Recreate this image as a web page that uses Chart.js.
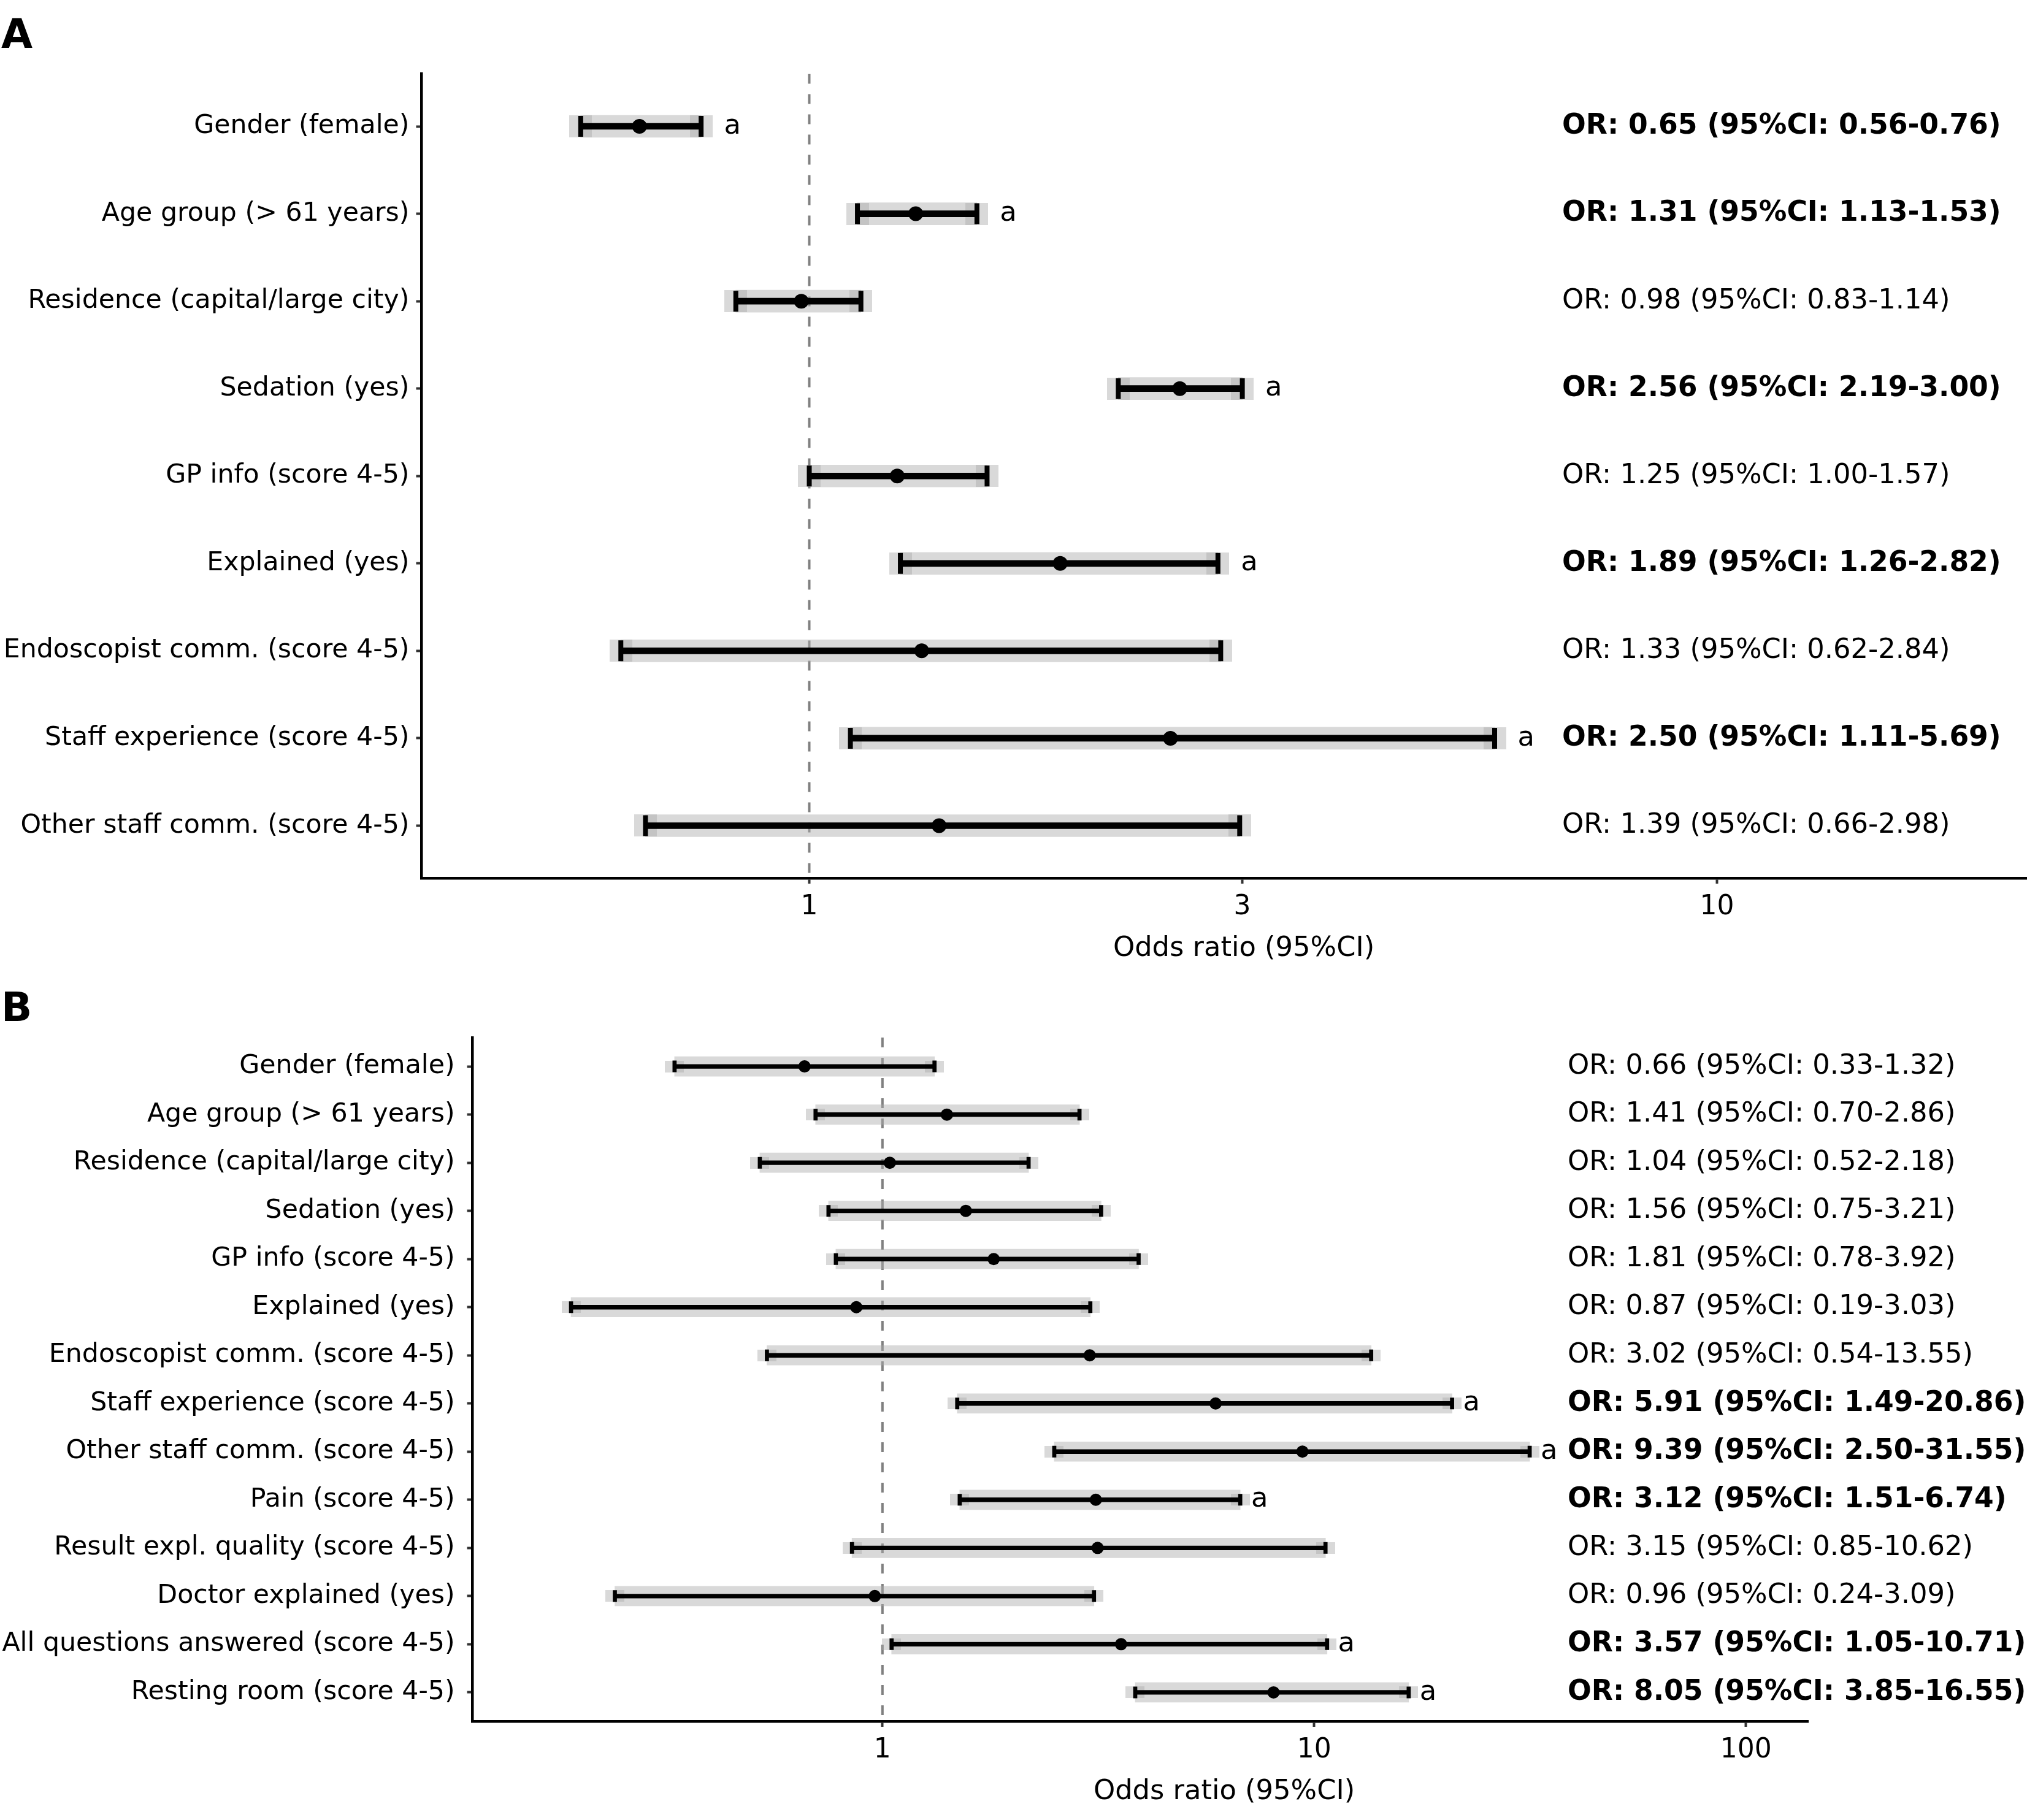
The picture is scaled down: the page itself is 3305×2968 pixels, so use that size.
<!DOCTYPE html>
<html><head><meta charset="utf-8">
<script src="https://cdn.jsdelivr.net/npm/chart.js@4.4.1/dist/chart.umd.min.js"></script>
<style>
html,body{margin:0;padding:0;background:#fff;}
body{width:3305px;height:2968px;position:relative;overflow:hidden;}
canvas{position:absolute;left:0;}
.panel{position:absolute;left:2px;font:bold 66px 'DejaVu Sans';line-height:1;color:#000;z-index:2;}
</style></head><body>
<canvas id="cA" width="3305" height="1600" style="top:0"></canvas>
<canvas id="cB" width="3305" height="1368" style="top:1600px"></canvas>
<div class="panel" style="top:23px">A</div>
<div class="panel" style="top:1610px">B</div>
<script>
// ---------- Panel A data ----------
const catsA = ['Gender (female)','Age group (> 61 years)','Residence (capital/large city)','Sedation (yes)','GP info (score 4-5)','Explained (yes)','Endoscopist comm. (score 4-5)','Staff experience (score 4-5)','Other staff comm. (score 4-5)'];
const orA = [0.65, 1.31, 0.98, 2.56, 1.25, 1.89, 1.33, 2.50, 1.39];
const loA = [0.56, 1.13, 0.83, 2.19, 1.00, 1.26, 0.62, 1.11, 0.66];
const hiA = [0.76, 1.53, 1.14, 3.00, 1.57, 2.82, 2.84, 5.69, 2.98];
const sigA = [true, true, false, true, false, true, false, true, false];
const ticksA = [1, 3, 10];

// ---------- Panel B data ----------
const catsB = ['Gender (female)','Age group (> 61 years)','Residence (capital/large city)','Sedation (yes)','GP info (score 4-5)','Explained (yes)','Endoscopist comm. (score 4-5)','Staff experience (score 4-5)','Other staff comm. (score 4-5)','Pain (score 4-5)','Result expl. quality (score 4-5)','Doctor explained (yes)','All questions answered (score 4-5)','Resting room (score 4-5)'];
const orB = [0.66, 1.41, 1.04, 1.56, 1.81, 0.87, 3.02, 5.91, 9.39, 3.12, 3.15, 0.96, 3.57, 8.05];
const loB = [0.33, 0.70, 0.52, 0.75, 0.78, 0.19, 0.54, 1.49, 2.50, 1.51, 0.85, 0.24, 1.05, 3.85];
const hiB = [1.32, 2.86, 2.18, 3.21, 3.92, 3.03, 13.55, 20.86, 31.55, 6.74, 10.62, 3.09, 10.71, 16.55];
const sigB = [false, false, false, false, false, false, false, true, true, true, false, false, true, true];
const ticksB = [1, 10, 100];

const axisTitle = 'Odds ratio (95%CI)';

// ---------- styling ----------
const FAM = '"DejaVu Sans"';
const BAND = 'rgba(170,170,170,0.45)';

const forestText = {
  id: 'forestText',
  afterDraw(chart, args, o) {
    const ctx = chart.ctx, x = chart.scales.x, y = chart.scales.y;
    ctx.save();
    ctx.fillStyle = '#000';
    ctx.textBaseline = 'middle';
    ctx.textAlign = 'left';
    for (let i = 0; i < o.labels.length; i++) {
      const py = y.getPixelForValue(i);
      ctx.font = o.sig[i] ? ('bold ' + o.boldSize + 'px ' + FAM) : (o.size + 'px ' + FAM);
      ctx.fillText(o.labels[i], x.getPixelForValue(o.textX), py);
      if (o.sig[i]) {
        ctx.font = o.size + 'px ' + FAM;
        ctx.fillText('a', x.getPixelForValue(o.hi[i] * 1.06), py);
      }
    }
    ctx.textAlign = 'center';
    ctx.font = o.size + 'px ' + FAM;
    ctx.fillText(o.title, o.titleX, o.titleY);
    ctx.restore();
  }
};

function capImg(w, h) {
  const c = document.createElement('canvas');
  c.width = w; c.height = h;
  const g = c.getContext('2d');
  g.fillStyle = BAND;
  g.fillRect(0, 0, w, h);
  return c;
}

function build(id, d, s) {
  const n = d.cats.length;
  const idx = d.cats.map((_, i) => i);
  const ends = [];
  idx.forEach(i => { ends.push({x: d.lo[i], y: i}); ends.push({x: d.hi[i], y: i}); });
  const ranges = idx.map(i => ({x: [d.lo[i], d.hi[i]], y: i}));
  const labels = idx.map(i => 'OR: ' + d.or[i].toFixed(2) + ' (95%CI: ' + d.lo[i].toFixed(2) + '-' + d.hi[i].toFixed(2) + ')');
  const gridOpts = {offset: false, drawOnChartArea: false, drawTicks: true, tickLength: 9, tickWidth: 4, tickColor: '#333'};
  const borderOpts = {display: true, color: '#000', width: 4.5};
  return new Chart(document.getElementById(id), {
    type: 'bar',
    data: { datasets: [
      {type: 'line', data: [{x: 1, y: -0.6}, {x: 1, y: n - 0.4}], borderColor: '#808080', borderWidth: 4,
       borderDash: [16, 17], pointRadius: 0, order: 6},
      {type: 'bar', indexAxis: 'y', grouped: false, data: ranges, backgroundColor: BAND, borderWidth: 0,
       barThickness: s.bandH, order: 5},
      {type: 'scatter', data: ends, pointStyle: capImg(s.sqW, s.sqH), pointRadius: 10, order: 4},
      {type: 'bar', indexAxis: 'y', grouped: false, data: ranges, backgroundColor: '#000', borderWidth: 0,
       barThickness: s.lineW, order: 3},
      {type: 'scatter', data: ends, pointStyle: 'line', pointRotation: 90, pointRadius: s.capH / 2,
       pointBorderWidth: s.capW, pointBorderColor: '#000', order: 2},
      {type: 'scatter', data: idx.map(i => ({x: d.or[i], y: i})), pointStyle: 'circle', pointRadius: s.dot / 2,
       pointBackgroundColor: '#000', pointBorderWidth: 0, order: 1}
    ]},
    options: {
      responsive: false, animation: false, devicePixelRatio: 1, events: [],
      layout: {autoPadding: false, padding: {top: s.top, left: 0, right: s.right, bottom: 0}},
      plugins: {
        legend: {display: false}, tooltip: {enabled: false},
        forestText: {labels: labels, sig: d.sig, hi: d.hi, textX: s.textX, size: 44.8, boldSize: 45.6,
                     title: axisTitle, titleX: s.titleX, titleY: s.titleY}
      },
      scales: {
        x: {type: 'logarithmic', position: 'bottom', min: s.xmin, max: s.xmax, offset: false,
            afterBuildTicks: sc => { sc.ticks = d.ticks.map(v => ({value: v})); },
            afterFit: sc => { sc.height = s.xAxisH; sc.paddingLeft = 0; sc.paddingRight = 0; sc.paddingTop = 0; sc.paddingBottom = 0; },
            ticks: {callback: v => String(v), font: {family: 'DejaVu Sans', size: 44}, color: '#000',
                    padding: 12, maxRotation: 0, autoSkip: false},
            grid: gridOpts, border: borderOpts},
        y: {type: 'linear', min: -0.6, max: n - 0.4, reverse: true, offset: false,
            afterBuildTicks: sc => { sc.ticks = idx.map(i => ({value: i})); },
            afterFit: sc => { sc.width = s.yAxisW; sc.paddingLeft = 0; sc.paddingRight = 0; sc.paddingTop = 0; sc.paddingBottom = 0; },
            ticks: {callback: v => d.cats[v], font: {family: 'DejaVu Sans', size: 42.7}, color: '#000',
                    padding: s.ypad, autoSkip: false},
            grid: gridOpts, border: borderOpts}
      }
    },
    plugins: [forestText]
  });
}

build('cA', {cats: catsA, or: orA, lo: loA, hi: hiA, sig: sigA, ticks: ticksA},
  {top: 120.5, right: 0, yAxisW: 687.5, xAxisH: 1600 - 1432, xmin: 0.37406, xmax: 21.96,
   bandH: 36, sqW: 37, sqH: 36, lineW: 10, capW: 8, capH: 34, dot: 24, ypad: 11,
   textX: 6.753, titleX: 2028, titleY: 1547});

build('cB', {cats: catsB, or: orB, lo: loB, hi: hiB, sig: sigB, ticks: ticksB},
  {top: 92, right: 3305 - 2948.8, yAxisW: 770.6, xAxisH: 1368 - 1207, xmin: 0.11241, xmax: 139.6,
   bandH: 32, sqW: 31, sqH: 19, lineW: 6.7, capW: 6.7, capH: 19, dot: 20, ypad: 20,
   textX: 38.64, titleX: 1996, titleY: 1322});
</script>
</body></html>
